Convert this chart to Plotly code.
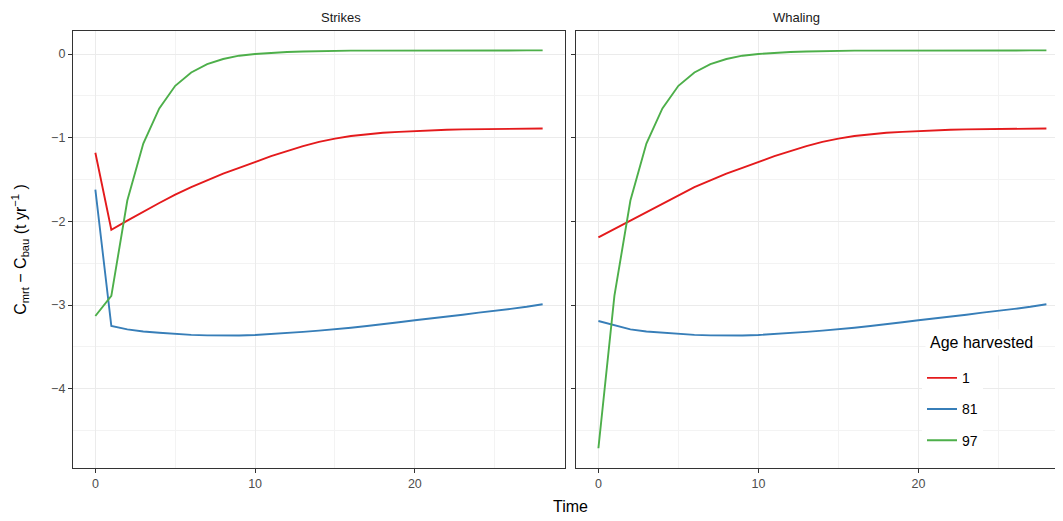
import plotly.graph_objects as go

time = list(range(29))

strikes_age1 = [-1.18, -2.10, -1.99, -1.89, -1.78, -1.68, -1.59, -1.51, -1.43, -1.36,
                -1.29, -1.22, -1.16, -1.10, -1.05, -1.01, -0.98, -0.96, -0.94, -0.93,
                -0.92, -0.91, -0.905, -0.90, -0.897, -0.895, -0.893, -0.891, -0.89]
strikes_age81 = [-1.62, -3.25, -3.29, -3.315, -3.33, -3.345, -3.355, -3.362, -3.365, -3.363,
                 -3.357, -3.347, -3.335, -3.32, -3.305, -3.29, -3.27, -3.25, -3.23, -3.205,
                 -3.18, -3.16, -3.135, -3.115, -3.09, -3.07, -3.045, -3.02, -2.99]
strikes_age97 = [-3.13, -2.89, -1.75, -1.07, -0.65, -0.38, -0.22, -0.12, -0.06, -0.02,
                 0.00, 0.015, 0.025, 0.03, 0.035, 0.038, 0.04, 0.041, 0.042, 0.042,
                 0.043, 0.043, 0.043, 0.043, 0.043, 0.043, 0.043, 0.043, 0.043]

whaling_age1 = [-2.19, -2.09] + strikes_age1[2:]
whaling_age81 = [-3.19, -3.24] + strikes_age81[2:]
whaling_age97 = [-4.71] + strikes_age97[1:]

ages = ["1", "81", "97"]
colors = ["#E41A1C", "#377EB8", "#4DAF4A"]
panels = ["Strikes", "Whaling"]

# page has an 8px body margin: size the figure so it ends at the window edge
OFF = 8
W, H = 1063 - OFF, 521 - OFF
ml, mt = 73 - OFF, 31 - OFF
mb = H - (467.7 - OFF)
plot_w = W - ml
plot_h = H - mt - mb
left_end = (565 - OFF - ml) / plot_w
right_start = (576 - OFF - ml) / plot_w

fig = go.Figure()
series = {
    ("Strikes", "1"): strikes_age1, ("Strikes", "81"): strikes_age81, ("Strikes", "97"): strikes_age97,
    ("Whaling", "1"): whaling_age1, ("Whaling", "81"): whaling_age81, ("Whaling", "97"): whaling_age97,
}
for pi, panel in enumerate(panels):
    for age, col in zip(ages, colors):
        fig.add_trace(go.Scatter(
            x=time, y=series[(panel, age)], mode="lines",
            line=dict(color=col, width=1.9),
            name=age, legendgroup=age, showlegend=(pi == 0),
            xaxis="x" if pi == 0 else "x2", yaxis="y" if pi == 0 else "y2",
        ))

tickfont = dict(family="Liberation Sans, Arial, sans-serif", size=12.5, color="#4D4D4D")
common_x = dict(
    showgrid=True, gridcolor="#EBEBEB", gridwidth=1.3,
    tick0=0, dtick=10, ticks="outside", ticklen=4, tickcolor="#333333", tickwidth=1,
    showline=True, linecolor="#333333", linewidth=1.3, mirror=True,
    zeroline=False, tickfont=tickfont, automargin=False,
    minor=dict(dtick=5, showgrid=True, gridcolor="#F3F3F3", gridwidth=0.7, ticks=""),
)
common_y = dict(
    showgrid=True, gridcolor="#EBEBEB", gridwidth=1.3,
    tick0=0, dtick=1, ticks="outside", ticklen=4, tickcolor="#333333", tickwidth=1,
    showline=True, linecolor="#333333", linewidth=1.3, mirror=True,
    zeroline=False, tickfont=tickfont, range=[-4.946, 0.275], automargin=False,
    minor=dict(dtick=0.5, showgrid=True, gridcolor="#F3F3F3", gridwidth=0.7, ticks=""),
)

px_per_unit = 16.0
right_range_max = -1.4 + (1063 - 576) / px_per_unit


def fx(px):  # screen x -> paper x
    return (px - OFF - ml) / plot_w


def fy(py):  # screen y -> paper y
    return (H - mb - (py - OFF)) / plot_h


fig.update_layout(
    width=W, height=H,
    margin=dict(l=ml, r=0, t=mt, b=mb, autoexpand=False),
    paper_bgcolor="white", plot_bgcolor="white",
    font=dict(family="Liberation Sans, Arial, sans-serif", color="#000000"),
    xaxis=dict(domain=[0, left_end], range=[-1.4, 29.4], anchor="y", **common_x),
    xaxis2=dict(domain=[right_start, 1.0], range=[-1.4, right_range_max], anchor="y2", **common_x),
    yaxis=dict(domain=[0, 1], anchor="x", **common_y,
               title=dict(text="C<sub>mrt</sub> − C<sub>bau</sub> (t yr<sup>−1</sup> )",
                          font=dict(size=16, color="#000000"), standoff=20)),
    yaxis2=dict(domain=[0, 1], anchor="x2", showticklabels=False, **common_y),
    legend=dict(
        font=dict(size=14, color="#000000"),
        x=fx(922), xanchor="left",
        y=fy(362), yanchor="top",
        bgcolor="white", tracegroupgap=10, itemwidth=30,
    ),
    annotations=[
        dict(text="Strikes", x=(fx(73) + fx(565)) / 2, y=1, xref="paper", yref="paper",
             yanchor="bottom", yshift=4, showarrow=False,
             font=dict(size=13, color="#1A1A1A")),
        dict(text="Whaling", x=(fx(576) + fx(1068)) / 2, xref="paper",
             y=1, yref="paper", yanchor="bottom", yshift=4, showarrow=False,
             font=dict(size=13, color="#1A1A1A")),
        dict(text="Time", x=fx(570), y=0, xref="paper", yref="paper",
             yanchor="top", yshift=-28, showarrow=False,
             font=dict(size=16, color="#000000")),
        dict(text="Age harvested", x=fx(925), y=fy(342), xref="paper", yref="paper",
             xanchor="left", yanchor="middle", showarrow=False,
             bgcolor="white", borderpad=4,
             font=dict(size=16, color="#000000")),
    ],
)

fig.write_html("out.html")
